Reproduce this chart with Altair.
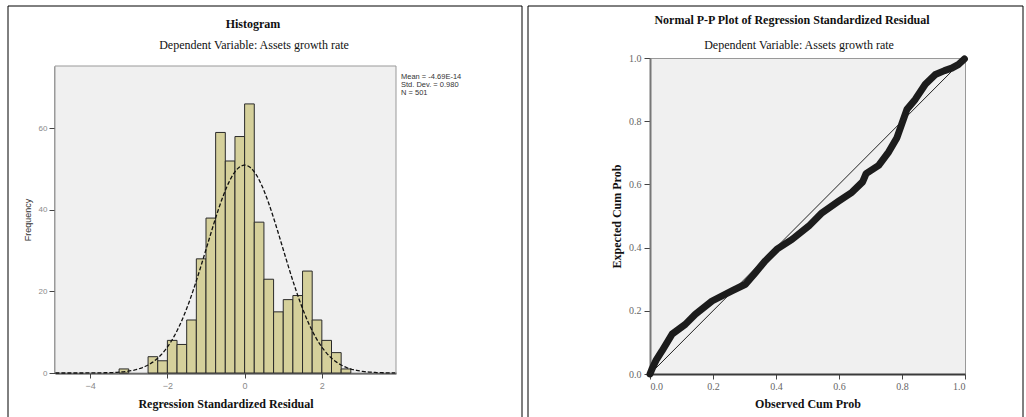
import altair as alt
import pandas as pd

# ---------------- Histogram (left panel) ----------------
HIST_TITLE = "Histogram"
SUBTITLE = "Dependent Variable: Assets growth rate"
HIST_X_TITLE = "Regression Standardized Residual"
HIST_Y_TITLE = "Frequency"
BIN_WIDTH = 0.25
bin_start = [-3.25, -2.5, -2.25, -2.0, -1.75, -1.5, -1.25, -1.0, -0.75, -0.5, -0.25,
             0.0, 0.25, 0.5, 0.75, 1.0, 1.25, 1.5, 1.75, 2.0, 2.25, 2.5]
counts = [1, 4, 3, 8, 7, 13, 28, 38, 59, 52, 58,
          66, 37, 23, 15, 18, 19, 25, 13, 8, 5, 1]
hist_x_ticks = [-4, -2, 0, 2]
hist_y_ticks = [0, 20, 40, 60]
MEAN = -4.69e-14
SD = 0.980
N_TOTAL = 501
stats_lines = ["Mean = -4.69E-14", "Std. Dev. = 0.980", "N = 501"]

# ---------------- P-P plot (right panel) ----------------
PP_TITLE = "Normal P-P Plot of Regression Standardized Residual"
PP_X_TITLE = "Observed Cum Prob"
PP_Y_TITLE = "Expected Cum Prob"
pp_obs = [0.0, 0.006, 0.02, 0.038, 0.07, 0.112, 0.144, 0.197, 0.26, 0.303, 0.334, 0.366,
          0.403, 0.451, 0.504, 0.546, 0.599, 0.641, 0.675, 0.686, 0.726, 0.758, 0.784,
          0.8, 0.816, 0.842, 0.874, 0.906, 0.935, 0.958, 0.98, 0.998]
pp_exp = [0.0, 0.015, 0.045, 0.073, 0.126, 0.157, 0.189, 0.231, 0.263, 0.284, 0.32, 0.358,
          0.395, 0.426, 0.468, 0.51, 0.547, 0.575, 0.608, 0.634, 0.66, 0.703, 0.748,
          0.793, 0.838, 0.869, 0.917, 0.948, 0.96, 0.968, 0.98, 0.997]
diag = [0.0, 1.0]
pp_ticks = [0.0, 0.2, 0.4, 0.6, 0.8, 1.0]

SERIF = "Liberation Serif"
SANS = "Liberation Sans"
BG = "#f0f0f0"
FRAME = "#999"
one = alt.Data(values=[{"a": 0}])

# ======== left panel (group origin shared with right panel; plot starts 8px lower) ========
hist_df = pd.DataFrame({"start": bin_start,
                        "end": [b + BIN_WIDTH for b in bin_start],
                        "count": counts})

L_W, L_H, L_TOP = 341, 315, 8
xs_l = alt.Scale(domain=[-4.91, 3.92], nice=False, zero=False)
ys_l = alt.Scale(domain=[0, 75.3], nice=False, range=[L_H, L_TOP])
ax_xl = alt.Axis(values=hist_x_ticks, format="d", title=HIST_X_TITLE, grid=False,
                 domainColor="#3a3a3a", domainWidth=2, tickColor="#444", tickSize=5,
                 labelFont=SANS, labelFontSize=9, labelColor="#8a8a8a", labelPadding=3,
                 titleFont=SERIF, titleFontSize=12, titleFontWeight="bold",
                 titleColor="#111", titlePadding=8)
ax_yl = alt.Axis(values=hist_y_ticks, format="d", title=HIST_Y_TITLE, grid=False,
                 domainColor="#3a3a3a", domainWidth=2, tickColor="#444", tickSize=6,
                 labelFont=SANS, labelFontSize=8, labelColor="#8a8a8a", labelPadding=2,
                 titleFont=SANS, titleFontSize=9, titleFontWeight="normal",
                 titleColor="#333", titlePadding=6)

bg_l = alt.Chart(one).mark_rect(fill=BG, stroke=FRAME, strokeWidth=1).encode(
    x=alt.value(0), x2=alt.value(L_W), y=alt.value(L_TOP), y2=alt.value(L_H))

bars = alt.Chart(hist_df).mark_rect(fill="#d5d09b", stroke="#2a2a2a", strokeWidth=1).encode(
    x=alt.X("start:Q", scale=xs_l, axis=ax_xl),
    x2="end:Q",
    y=alt.Y("count:Q", scale=ys_l, axis=ax_yl),
    y2=alt.datum(0),
)

curve = alt.Chart(alt.sequence(-4.9, 3.92, 0.04, as_="x")).transform_calculate(
    y=f"{N_TOTAL}*{BIN_WIDTH}*exp(-0.5*pow((datum.x-({MEAN}))/{SD},2))/({SD}*sqrt(2*PI))"
).mark_line(color="#111", strokeWidth=1.3, strokeDash=[4, 2]).encode(
    x=alt.X("x:Q", scale=xs_l, axis=ax_xl),
    y=alt.Y("y:Q", scale=ys_l, axis=ax_yl),
)

stats = alt.Chart(one).mark_text(font=SANS, fontSize=7.5, color="#333", align="left",
                                 baseline="top", lineHeight=8).encode(
    text=alt.value(stats_lines), x=alt.value(346), y=alt.value(15))

t1 = alt.Chart(one).mark_text(font=SERIF, fontSize=12, fontWeight="bold", color="#111",
                              baseline="middle").encode(
    text=alt.value(HIST_TITLE), x=alt.value(198), y=alt.value(-34))
t2 = alt.Chart(one).mark_text(font=SERIF, fontSize=12, color="#111",
                              baseline="middle").encode(
    text=alt.value(SUBTITLE), x=alt.value(199), y=alt.value(-13))

r_top_l = alt.Chart(one).mark_rule(color="#000", strokeWidth=1).encode(
    x=alt.value(-47), x2=alt.value(467), y=alt.value(-52))
r_left_l = alt.Chart(one).mark_rule(color="#000", strokeWidth=1).encode(
    x=alt.value(-47), y=alt.value(-52), y2=alt.value(359))
r_right_l = alt.Chart(one).mark_rule(color="#000", strokeWidth=1).encode(
    x=alt.value(467), y=alt.value(-52), y2=alt.value(359))

left = alt.layer(bg_l, bars, curve, stats, t1, t2, r_top_l, r_left_l, r_right_l).properties(
    width=L_W, height=L_H,
    view=alt.ViewBackground(fillOpacity=0, strokeOpacity=0))

# ======== right panel ========
pp_df = pd.DataFrame({"obs": pp_obs, "exp": pp_exp})
diag_df = pd.DataFrame({"obs": diag, "exp": diag})

xs_r = alt.Scale(domain=[0, 1], nice=False)
ys_r = alt.Scale(domain=[0, 1], nice=False)
ax_xr = alt.Axis(values=pp_ticks, format=".1f", title=PP_X_TITLE, grid=False,
                 domainColor="#3a3a3a", domainWidth=2, tickColor="#444", tickSize=5,
                 labelFont=SERIF, labelFontSize=10, labelColor="#666", labelPadding=2,
                 titleFont=SERIF, titleFontSize=12, titleFontWeight="bold",
                 titleColor="#111", titlePadding=7)
ax_yr = alt.Axis(values=pp_ticks, format=".1f", title=PP_Y_TITLE, grid=False,
                 domainColor="#777", domainWidth=2, tickColor="#444", tickSize=6,
                 labelFont=SERIF, labelFontSize=10, labelColor="#666", labelPadding=3,
                 titleFont=SERIF, titleFontSize=12, titleFontWeight="bold",
                 titleColor="#111", titlePadding=5)

band = alt.Chart(pp_df).mark_line(color="#1c1c1c", strokeWidth=7, strokeCap="round",
                                  strokeJoin="round").encode(
    x=alt.X("obs:Q", scale=xs_r, axis=ax_xr),
    y=alt.Y("exp:Q", scale=ys_r, axis=ax_yr),
    order="obs:Q",
)
diag_line = alt.Chart(diag_df).mark_line(color="#222", strokeWidth=1).encode(
    x=alt.X("obs:Q", scale=xs_r, axis=ax_xr),
    y=alt.Y("exp:Q", scale=ys_r, axis=ax_yr),
)

t3 = alt.Chart(one).mark_text(font=SERIF, fontSize=12, fontWeight="bold", color="#111",
                              baseline="middle").encode(
    text=alt.value(PP_TITLE), x=alt.value(142), y=alt.value(-38))
t4 = alt.Chart(one).mark_text(font=SERIF, fontSize=12, color="#111",
                              baseline="middle").encode(
    text=alt.value(SUBTITLE), x=alt.value(149), y=alt.value(-13))

r_top_r = alt.Chart(one).mark_rule(color="#000", strokeWidth=1).encode(
    x=alt.value(-122), x2=alt.value(373), y=alt.value(-52))
r_left_r = alt.Chart(one).mark_rule(color="#000", strokeWidth=1).encode(
    x=alt.value(-122), y=alt.value(-52), y2=alt.value(359))
r_right_r = alt.Chart(one).mark_rule(color="#000", strokeWidth=1).encode(
    x=alt.value(373), y=alt.value(-52), y2=alt.value(359))

right = alt.layer(band, diag_line, t3, t4, r_top_r, r_left_r, r_right_r).properties(
    width=315, height=316,
    view=alt.ViewBackground(fill=BG, stroke=FRAME, strokeWidth=1))

chart = alt.hconcat(left, right, spacing=4).properties(
    padding={"left": 7, "top": 5, "right": 0, "bottom": 0},
    background="white",
)

chart.save("out.html", embed_options={"renderer": "svg", "actions": False})
